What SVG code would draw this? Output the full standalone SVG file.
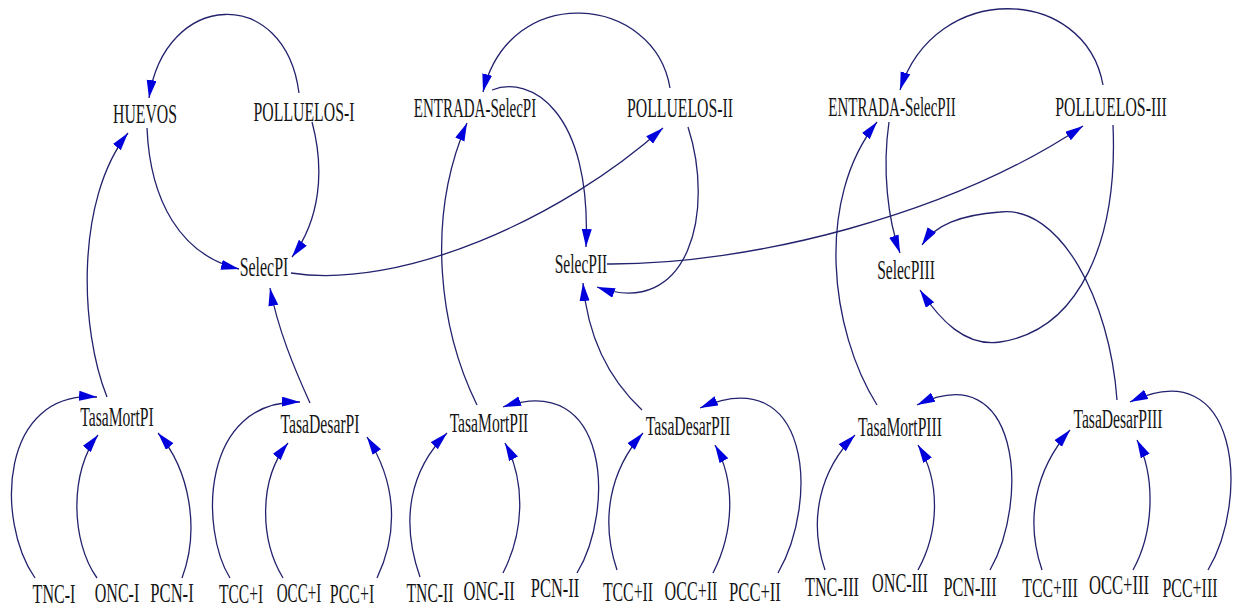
<svg xmlns="http://www.w3.org/2000/svg" width="1235" height="610" viewBox="0 0 1235 610">
<style>
text{font-family:"Liberation Serif","Times New Roman",serif;font-size:27px;fill:#151515;text-anchor:middle}
.c{fill:none;stroke:#22226e;stroke-width:1.3}
</style>
<defs>
<marker id="ah" markerUnits="userSpaceOnUse" markerWidth="20" markerHeight="12" refX="18" refY="5" orient="auto">
<path d="M0,0 L18,5 L0,10 Z" fill="#0000dc"/>
</marker>
</defs>
<rect width="1235" height="610" fill="#ffffff"/>
<g id="connectors" class="c" marker-end="url(#ah)">
<path class="c" d="M299 93 C285 -15 165 -10 149 98"/>
<path class="c" d="M147 128 C150 200 180 255 239 269"/>
<path class="c" d="M312 122 C325 170 320 220 292 257"/>
<path class="c" d="M291 273 C400 290 560 220 663 128"/>
<path class="c" d="M477 405 C440 330 425 220 467 123"/>
<path class="c" d="M492 90 C530 75 592 110 586 247"/>
<path class="c" d="M670 88 C655 -5 510 -20 483 92"/>
<path class="c" d="M688 127 C715 210 690 320 597 287"/>
<path class="c" d="M607 264 C750 265 950 215 1083 126"/>
<path class="c" d="M889 122 C882 170 888 220 900 253"/>
<path class="c" d="M877 405 C830 330 815 200 877 122"/>
<path class="c" d="M1103 85 C1085 -15 935 -20 900 90"/>
<path class="c" d="M1113 125 C1118 240 1080 330 1000 342 C965 347 940 320 920 290"/>
<path class="c" d="M1117 400 C1110 300 1060 205 1000 212 C960 215 935 225 922 245"/>
<path class="c" d="M642 410 C610 380 588 340 583 283"/>
<path class="c" d="M310 403 C295 370 278 330 270 288"/>
<path class="c" d="M107 397 C80 330 75 200 128 133"/>
<path class="c" d="M35 578 C-5 520 0 390 97 397"/>
<path class="c" d="M97 578 C70 540 70 470 98 435"/>
<path class="c" d="M182 578 C200 530 190 470 158 433"/>
<path class="c" d="M230 578 C200 530 200 400 300 402"/>
<path class="c" d="M283 578 C260 540 258 480 288 443"/>
<path class="c" d="M377 578 C400 530 395 480 367 437"/>
<path class="c" d="M420 577 C400 520 410 470 447 433"/>
<path class="c" d="M503 573 C525 530 525 480 505 443"/>
<path class="c" d="M577 573 C615 510 610 370 503 407"/>
<path class="c" d="M617 570 C600 520 610 470 643 433"/>
<path class="c" d="M713 573 C735 530 735 480 715 445"/>
<path class="c" d="M778 573 C820 500 810 360 700 408"/>
<path class="c" d="M825 570 C808 520 820 470 855 435"/>
<path class="c" d="M918 570 C940 530 940 480 918 445"/>
<path class="c" d="M990 570 C1030 500 1020 355 917 405"/>
<path class="c" d="M1042 570 C1025 520 1035 470 1070 430"/>
<path class="c" d="M1133 570 C1155 530 1155 475 1137 440"/>
<path class="c" d="M1208 570 C1250 500 1240 350 1130 402"/>
</g>
<g id="n-huevos"><text transform="translate(145 123) scale(0.585 1)">HUEVOS</text></g>
<g id="n-polluelos-i"><text transform="translate(304 121) scale(0.585 1)">POLLUELOS-I</text></g>
<g id="n-entrada-selecpi"><text transform="translate(475 117) scale(0.555 1)">ENTRADA-SelecPI</text></g>
<g id="n-polluelos-ii"><text transform="translate(680 117) scale(0.585 1)">POLLUELOS-II</text></g>
<g id="n-entrada-selecpii"><text transform="translate(892 116) scale(0.555 1)">ENTRADA-SelecPII</text></g>
<g id="n-polluelos-iii"><text transform="translate(1111 116) scale(0.585 1)">POLLUELOS-III</text></g>
<g id="n-selecpi"><text transform="translate(264 276) scale(0.59 1)">SelecPI</text></g>
<g id="n-selecpii"><text transform="translate(581 273) scale(0.575 1)">SelecPII</text></g>
<g id="n-selecpiii"><text transform="translate(906 279) scale(0.575 1)">SelecPIII</text></g>
<g id="n-tasamortpi"><text transform="translate(117 426) scale(0.578 1)">TasaMortPI</text></g>
<g id="n-tasadesarpi"><text transform="translate(320 433) scale(0.582 1)">TasaDesarPI</text></g>
<g id="n-tasamortpii"><text transform="translate(489 432) scale(0.578 1)">TasaMortPII</text></g>
<g id="n-tasadesarpii"><text transform="translate(688 435) scale(0.582 1)">TasaDesarPII</text></g>
<g id="n-tasamortpiii"><text transform="translate(900 436) scale(0.578 1)">TasaMortPIII</text></g>
<g id="n-tasadesarpiii"><text transform="translate(1118 428) scale(0.578 1)">TasaDesarPIII</text></g>
<g id="n-tnc-i"><text transform="translate(54 603) scale(0.595 1)">TNC-I</text></g>
<g id="n-onc-i"><text transform="translate(117 602) scale(0.595 1)">ONC-I</text></g>
<g id="n-pcn-i"><text transform="translate(172 602) scale(0.615 1)">PCN-I</text></g>
<g id="n-tcc-i"><text transform="translate(241 603) scale(0.575 1)">TCC+I</text></g>
<g id="n-occ-i"><text transform="translate(299 602) scale(0.56 1)">OCC+I</text></g>
<g id="n-pcc-i"><text transform="translate(352 603) scale(0.59 1)">PCC+I</text></g>
<g id="n-tnc-ii"><text transform="translate(430 602) scale(0.58 1)">TNC-II</text></g>
<g id="n-onc-ii"><text transform="translate(489 600) scale(0.61 1)">ONC-II</text></g>
<g id="n-pcn-ii"><text transform="translate(555 597) scale(0.61 1)">PCN-II</text></g>
<g id="n-tcc-ii"><text transform="translate(628 601) scale(0.585 1)">TCC+II</text></g>
<g id="n-occ-ii"><text transform="translate(691 600) scale(0.595 1)">OCC+II</text></g>
<g id="n-pcc-ii"><text transform="translate(755 601) scale(0.615 1)">PCC+II</text></g>
<g id="n-tnc-iii"><text transform="translate(832 596) scale(0.6 1)">TNC-III</text></g>
<g id="n-onc-iii"><text transform="translate(900 592) scale(0.6 1)">ONC-III</text></g>
<g id="n-pcn-iii"><text transform="translate(970 596) scale(0.6 1)">PCN-III</text></g>
<g id="n-tcc-iii"><text transform="translate(1050 597) scale(0.585 1)">TCC+III</text></g>
<g id="n-occ-iii"><text transform="translate(1119 594) scale(0.615 1)">OCC+III</text></g>
<g id="n-pcc-iii"><text transform="translate(1190 597) scale(0.59 1)">PCC+III</text></g>
</svg>
